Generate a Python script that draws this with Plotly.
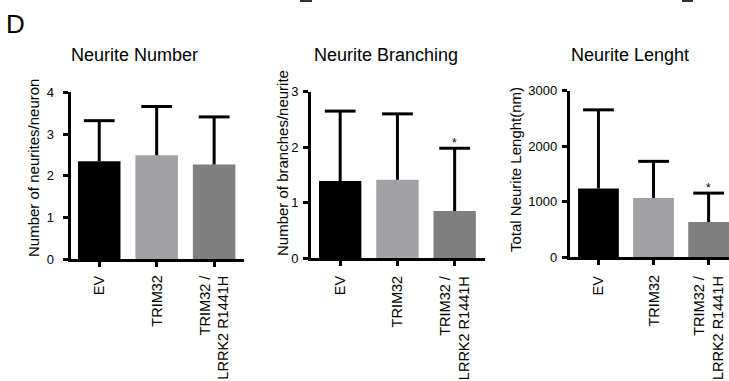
import plotly.graph_objects as go

W, H = 729, 381

categories = ["EV", "TRIM32", "TRIM32 /<br>LRRK2 R1441H"]
colors = ["#000000", "#A1A1A5", "#7F7F7F"]

# Panel 1: Neurite Number
number_mean = [2.35, 2.49, 2.27]
number_sd = [0.97, 1.17, 1.14]
# Panel 2: Neurite Branching
branch_mean = [1.39, 1.41, 0.85]
branch_sd = [1.26, 1.19, 1.13]
# Panel 3: Neurite Length
length_mean = [1239, 1066, 632]
length_sd = [1416, 661, 523]

titles = ["Neurite Number", "Neurite Branching", "Neurite Lenght"]
ytitles = ["Number of neurites/neuron", "Number of branches/neurite", "Total Neurite Lenght(nm)"]
yticks = [[0, 1, 2, 3, 4], [0, 1, 2, 3], [0, 1000, 2000, 3000]]
significant = [None, 2, 2]

FONT = "Arial, Liberation Sans, sans-serif"


def px_x(p):
    return p / W


def px_y(p):
    return 1 - p / H


panels = [
    dict(x0=70.5, x1=244, yb=259.2, yt=92.3, xr=[-0.50, 2.52], yr=[0, 4],
         mean=number_mean, sd=number_sd, tx=134, ytx=33, yty=168, so=6),
    dict(x0=311, x1=485, yb=258.0, yt=91.7, xr=[-0.51, 2.53], yr=[0, 3],
         mean=branch_mean, sd=branch_sd, tx=386, ytx=282, yty=163, so=2),
    dict(x0=569.8, x1=729, yb=257.2, yt=90.7, xr=[-0.52, 2.37], yr=[0, 3000],
         mean=length_mean, sd=length_sd, tx=630, ytx=515, yty=170, so=2),
]

fig = go.Figure()
annotations = []
layout_axes = {}

for i, p in enumerate(panels):
    n = "" if i == 0 else str(i + 1)
    fig.add_trace(go.Bar(
        x=categories, y=p["mean"],
        marker=dict(color=colors, line=dict(width=0)),
        width=0.74,
        xaxis="x" + n, yaxis="y" + n, showlegend=False,
        hoverinfo="skip",
    ))
    tops = [m + s for m, s in zip(p["mean"], p["sd"])]
    fig.add_trace(go.Scatter(
        x=categories, y=tops, mode="markers",
        marker=dict(symbol="line-ew", size=22, color="black",
                    line=dict(width=3, color="black")),
        error_y=dict(type="data", symmetric=False, array=[0, 0, 0],
                     arrayminus=p["sd"], color="black", thickness=3, width=0),
        xaxis="x" + n, yaxis="y" + n, showlegend=False,
        hoverinfo="skip", cliponaxis=False,
    ))
    layout_axes["xaxis" + n] = dict(
        domain=[px_x(p["x0"]), px_x(p["x1"])], anchor="y" + n,
        range=p["xr"], showgrid=False, zeroline=False,
        showline=True, linecolor="black", linewidth=3,
        ticks="outside", ticklen=5, tickwidth=2.5, tickcolor="black",
        showticklabels=False, automargin=False, fixedrange=True,
    )
    layout_axes["yaxis" + n] = dict(
        domain=[px_y(p["yb"]), px_y(p["yt"])], anchor="x" + n,
        range=p["yr"], tickvals=yticks[i], showgrid=False, zeroline=False,
        showline=True, linecolor="black", linewidth=3,
        ticks="outside", ticklen=5, tickwidth=2.5, tickcolor="black",
        ticklabelstandoff=p["so"],
        tickfont=dict(family=FONT, size=13, color="black"),
        automargin=False, fixedrange=True,
    )
    # category labels (rotated, drawn from the category list)
    for c in categories:
        annotations.append(dict(
            text=c, xref="x" + n, yref="paper", x=c, y=px_y(273),
            xanchor="center", yanchor="top", textangle=-90, align="right",
            showarrow=False, font=dict(family=FONT, size=14.5, color="black"),
        ))
    annotations.append(dict(
        text=titles[i], xref="paper", yref="paper",
        x=px_x(p["tx"]), y=px_y(55), xanchor="center", yanchor="middle",
        showarrow=False, font=dict(family=FONT, size=18, color="black"),
    ))
    annotations.append(dict(
        text=ytitles[i], xref="paper", yref="paper", textangle=-90,
        x=px_x(p["ytx"]), y=px_y(p["yty"]), xanchor="center", yanchor="middle",
        showarrow=False, font=dict(family=FONT, size=15, color="black"),
    ))
    if significant[i] is not None:
        k = significant[i]
        annotations.append(dict(
            text="*", xref="x" + n, yref="y" + n,
            x=categories[k], y=p["mean"][k] + p["sd"][k],
            xanchor="center", yanchor="bottom", yshift=-4,
            showarrow=False, font=dict(family=FONT, size=12, color="black"),
        ))

annotations.append(dict(
    text="D", xref="paper", yref="paper", x=px_x(4), y=px_y(24),
    xanchor="left", yanchor="middle", showarrow=False,
    font=dict(family=FONT, size=26, color="black"),
))

shapes = [
    dict(type="rect", xref="paper", yref="paper",
         x0=px_x(300), x1=px_x(312), y0=px_y(2), y1=px_y(0),
         fillcolor="#333333", line=dict(width=0)),
    dict(type="rect", xref="paper", yref="paper",
         x0=px_x(682), x1=px_x(693), y0=px_y(2), y1=px_y(0),
         fillcolor="#333333", line=dict(width=0)),
]

fig.update_layout(
    template="none",
    width=W, height=H,
    margin=dict(l=0, r=0, t=0, b=0, pad=0, autoexpand=False),
    paper_bgcolor="white", plot_bgcolor="white",
    showlegend=False,
    annotations=annotations, shapes=shapes,
    font=dict(family=FONT, color="black"),
    **layout_axes,
)

fig.write_html("out.html", config={"displayModeBar": False},
               post_script="document.body.style.margin='0';")
